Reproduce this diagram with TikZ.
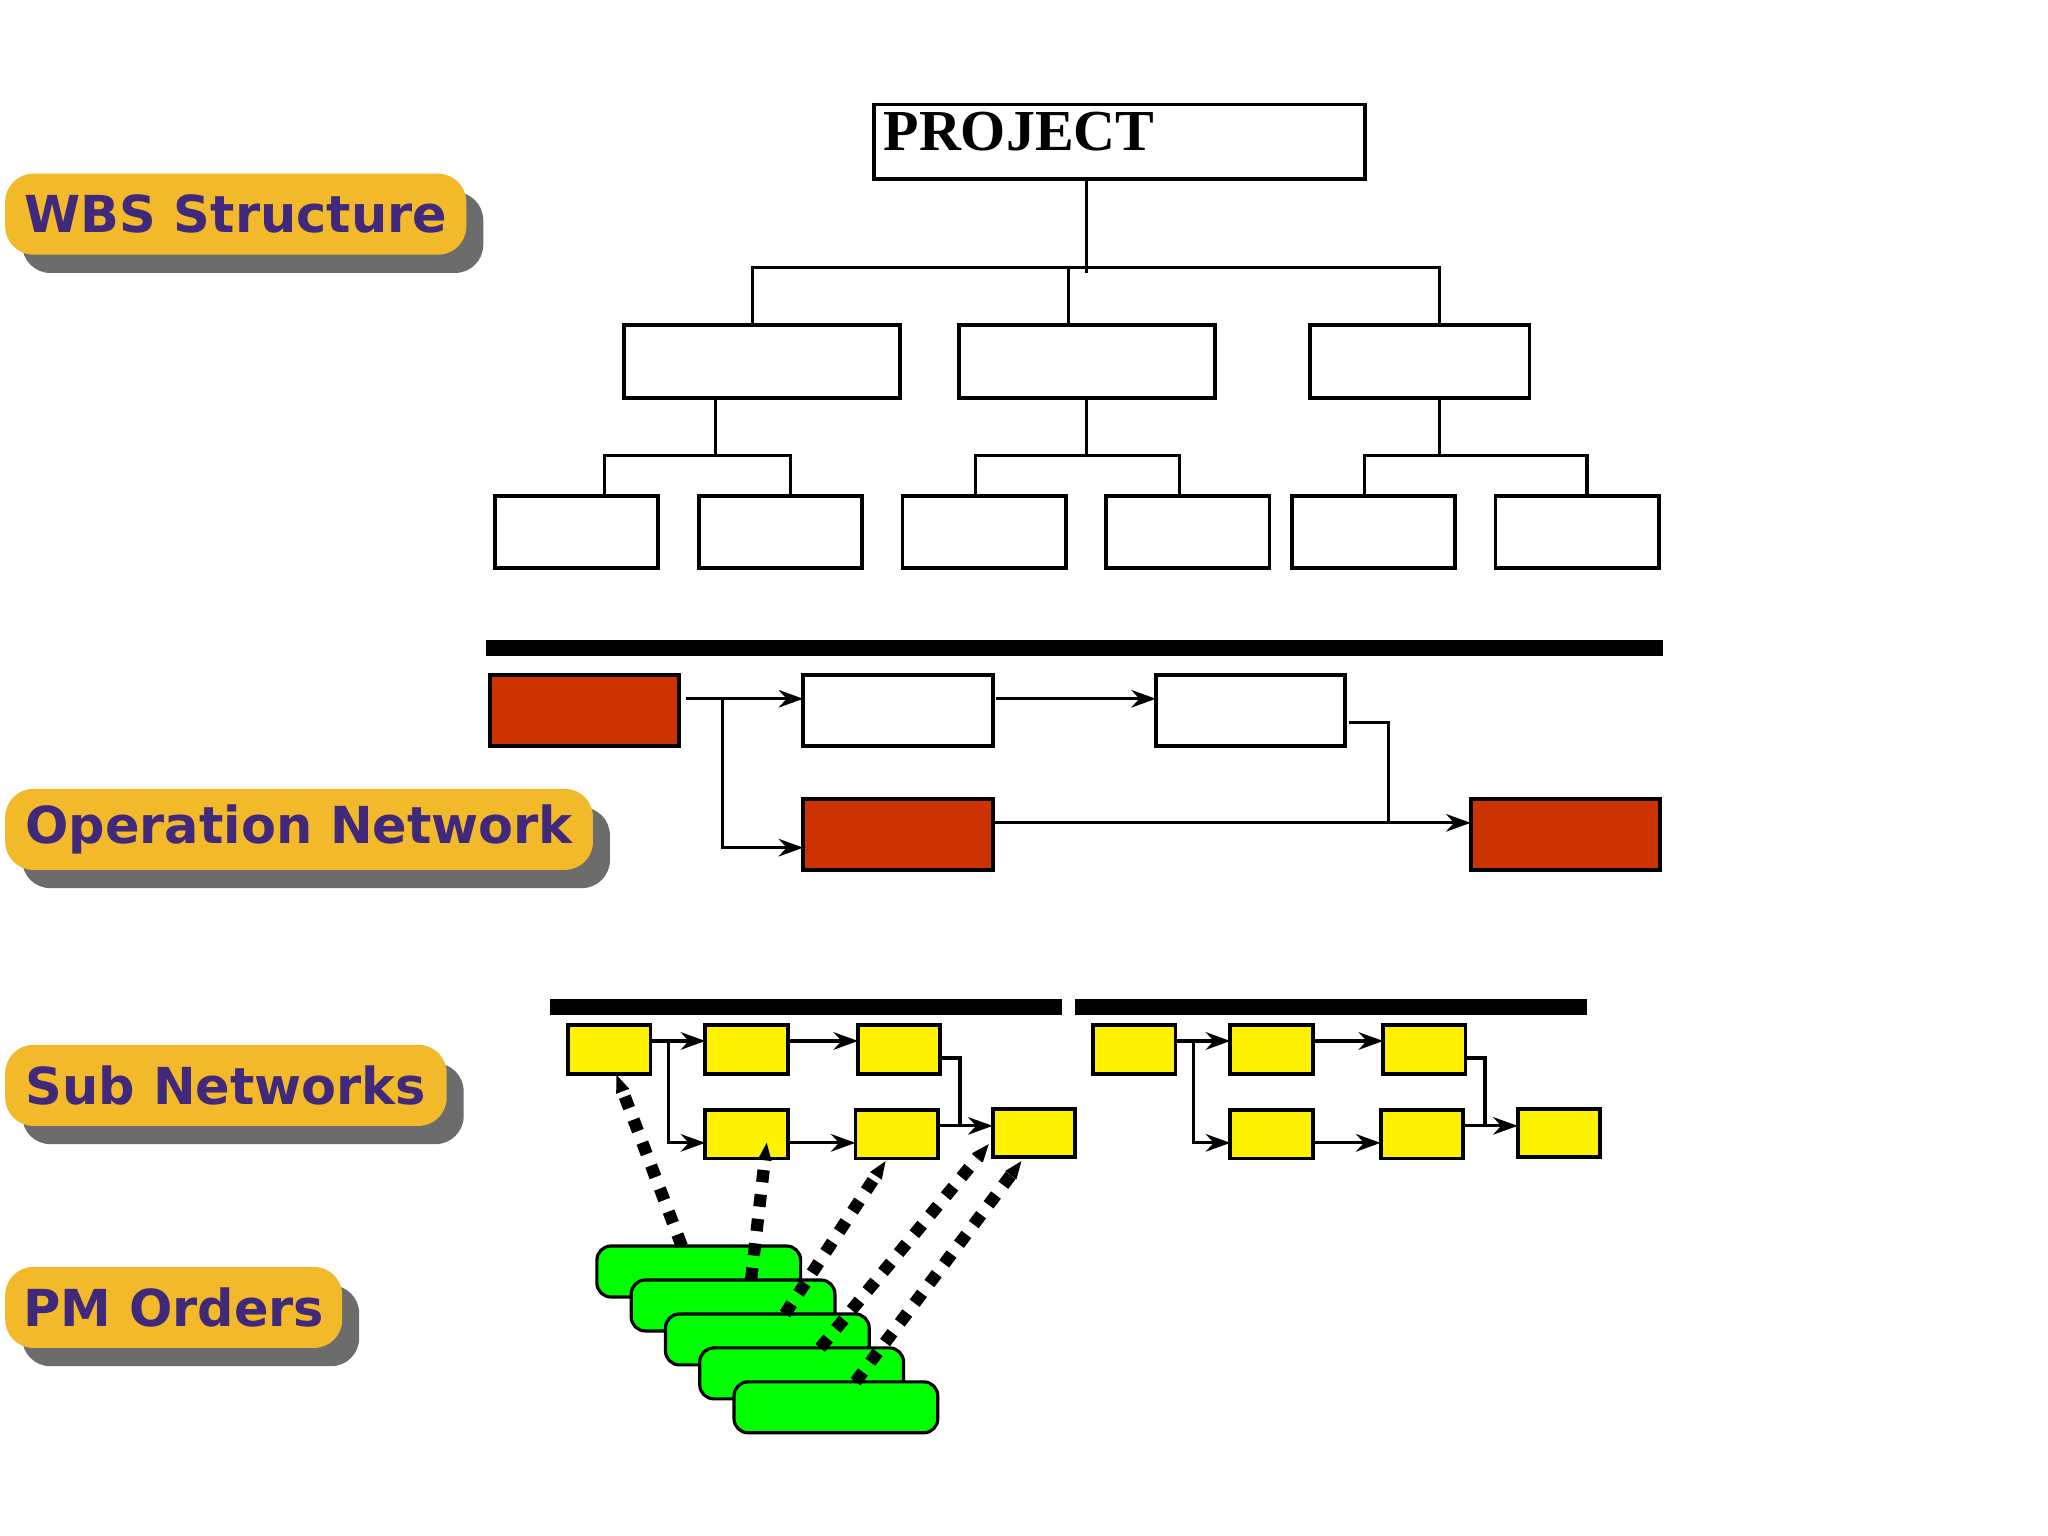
\documentclass[tikz,border=0pt]{standalone}
\usepackage{fontspec}
\setmainfont{Liberation Serif}
\newfontfamily\lblfont{DejaVu Sans}
\usetikzlibrary{arrows.meta,calc}
\definecolor{lblorange}{HTML}{F2B92B}
\definecolor{lblpurple}{HTML}{40287A}
\definecolor{opred}{HTML}{CC3300}
\newcommand{\bx}[6]{\node[#6, minimum width={((#4)-(#2))*0.01306cm}, minimum height={((#5)-(#3))*0.01306cm}] (#1) at ({((#2)+(#4))/2},{((#3)+(#5))/2}) {};}
\tikzset{
 wbs/.style={draw, line width=1.1pt, fill=white, inner sep=0, outer sep=0},
 opw/.style={draw, line width=1.1pt, fill=white, inner sep=0, outer sep=0},
 opr/.style={draw, line width=1.1pt, fill=opred, inner sep=0, outer sep=0},
 yel/.style={draw, line width=1.1pt, fill=yellow, inner sep=0, outer sep=0},
 grn/.style={draw, line width=0.9pt, fill=green, rounded corners=4pt, inner sep=0, outer sep=0},
 con/.style={line width=0.9pt},
 arr/.style={line width=0.9pt, -{Stealth[length=7pt,width=5pt]}},
 dot/.style={line width=3.5pt, dash pattern=on 3.5pt off 3.5pt, -{Triangle[length=5pt,width=4pt,line width=0pt]}},
 bar/.style={fill=black},
 lbl/.style={fill=lblorange, rounded corners=8pt, inner sep=0, outer sep=0, text=lblpurple, font=\lblfont\bfseries\fontsize{14.5}{17}\selectfont},
 shd/.style={fill=gray!85!black, rounded corners=8pt, inner sep=0, outer sep=0},
}
\begin{document}
\begin{tikzpicture}[x=0.01306cm,y=-0.01306cm]
\useasboundingbox (0,0) rectangle (1568,1176);
% labels
\foreach \n/\t/\xa/\ya/\xb/\yb in {w/WBS Structure/4/133/357/195, o/Operation Network/4/604/454/666, s/Sub Networks/4/800/342/862, p/PM Orders/4/970/262/1032}{
  \bx{sh\n}{\xa+13}{\ya+14}{\xb+13}{\yb+14}{shd}
  \node[lbl, minimum width={(\xb-\xa)*0.01306cm}, minimum height={(\yb-\ya)*0.01306cm}] (l\n) at ({(\xa+\xb)/2},{(\ya+\yb)/2}) {\t};
}
% WBS
\bx{P}{669}{80}{1045}{137}{wbs}
\node[anchor=north west, inner sep=0, font=\bfseries\fontsize{16.5}{20}\selectfont] (pt) at (676,85) {PROJECT};
\bx{a}{478}{249}{689}{305}{wbs}
\bx{b}{734}{249}{930}{305}{wbs}
\bx{c}{1003}{249}{1171}{305}{wbs}
\foreach \n/\xa in {a1/379,a2/535,b1/691,b2/847,c1/989,c2/1145}{\bx{\n}{\xa}{380}{\xa+125}{435}{wbs}}
\draw[con] (P.south -| 832,0) -- (832,209);
\draw[con] (576,249) |- (1102,205) -- (1102,249);
\draw[con] (818,205) -- (818,249);
\draw[con] (548,305) -- (548,349);
\draw[con] (463,380) |- (605,349) -- (605,380);
\draw[con] (b.south) -- (832,349);
\draw[con] (747,380) |- (903,349) -- (903,380);
\draw[con] (1102,305) -- (1102,349);
\draw[con] (1045,380) |- (1215,349) -- (1215,380);
% operation network
\fill[bar] (372,490) rectangle (1273,502);
\bx{r1}{375}{517}{520}{571}{opr}
\bx{w1}{615}{517}{760}{571}{opw}
\bx{w2}{885}{517}{1030}{571}{opw}
\bx{r2}{615}{612}{760}{666}{opr}
\bx{r3}{1126}{612}{1271}{666}{opr}
\draw[arr] ([xshift=2pt]r1.east |- 0,535) -- (w1.west |- 0,535);
\draw[arr] (553,535) |- (r2.west |- 0,649);
\draw[arr] ([xshift=1pt]w1.east |- 0,535) -- (w2.west |- 0,535);
\draw[arr] (r2.east |- 0,630) -- (r3.west |- 0,630);
\draw[con] ([xshift=1pt]w2.east |- 0,553) -| (1063,630);
% sub networks
\fill[bar] (421,765) rectangle (813,777);
\fill[bar] (823,765) rectangle (1215,777);
\foreach \p/\d in {0/A,402/G}{
  \bx{\d1}{435+\p}{785}{498+\p}{822}{yel}
  \bx{\d2}{540+\p}{785}{603+\p}{822}{yel}
  \bx{\d3}{657+\p}{785}{720+\p}{822}{yel}
  \bx{\d4}{540+\p}{850}{603+\p}{887}{yel}
  \bx{\d5}{655+\p}{850}{718+\p}{887}{yel}
  \bx{\d6}{760+\p}{849}{823+\p}{886}{yel}
  \draw[arr] (\d1.east |- 0,797) -- (\d2.west |- 0,797);
  \draw[arr] (512+\p,797) |- (\d4.west |- 0,875);
  \draw[arr] (\d2.east |- 0,797) -- (\d3.west |- 0,797);
  \draw[arr] (\d4.east |- 0,875) -- (\d5.west |- 0,875);
  \draw[con] (\d3.east |- 0,810) -| (735+\p,862);
  \draw[arr] (\d5.east |- 0,862) -- (\d6.west |- 0,862);
}
% PM orders
\foreach \i in {0,...,4}{\bx{g\i}{457+26.25*\i}{954+26*\i}{613+26.25*\i}{993+26*\i}{grn}}
\draw[dot] (g0.north -| 522,0) -- (472,823);
\draw[dot] (g1.north -| 575,0) -- (587,875);
\draw[dot] (g2.north -| 601,0) -- (678,889);
\draw[dot] (g3.north -| 628,0) -- (757,876);
\draw[dot] (g4.north -| 655,0) -- (782,889);
\end{tikzpicture}
\end{document}
